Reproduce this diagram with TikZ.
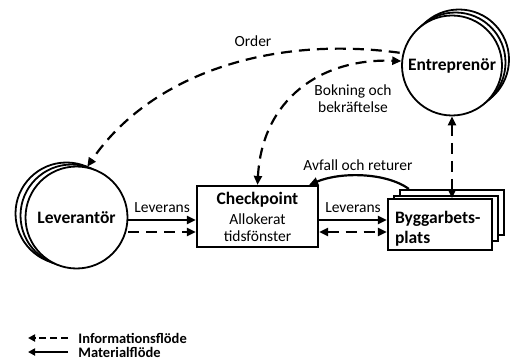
\documentclass[tikz,border=0pt]{standalone}
\usepackage{fontspec}
\setmainfont{Carlito}
\usetikzlibrary{arrows.meta}

\begin{document}
\begin{tikzpicture}[x=1pt, y=-1pt, line width=2.2pt,
    actor/.style={circle, draw, fill=white, inner sep=0pt, line width=1.8pt},
    site/.style={rectangle, draw, fill=white, minimum width=104pt, minimum height=45pt},
    mat/.style={-{Triangle[length=9pt,width=8pt]}},
    info/.style={mat, dash pattern=on 11pt off 7pt},
    infotwo/.style={{Triangle[length=9pt,width=8pt]}-{Triangle[length=9pt,width=8pt]}, dash pattern=on 11pt off 7pt},
    lbl/.style={font=\fontsize{15.5}{17}\selectfont},
    bigl/.style={font=\fontsize{17.5}{20}\selectfont\bfseries},
    legl/.style={anchor=west, font=\fontsize{14.5}{16}\selectfont\bfseries}]
        \useasboundingbox (0,0) rectangle (513,363);
        \node[actor, minimum size=100pt] (entc) at (459,59.5) {};
        \node[actor, minimum size=100pt] (entb) at (455.5,62.5) {};
        \node[actor, minimum size=100pt, bigl] (ent) at (452,65.5) {Entreprenör};
        \node[actor, minimum size=102pt] (levc) at (66.5,213.5) {};
        \node[actor, minimum size=102pt] (levb) at (71.5,215.5) {};
        \node[actor, minimum size=102pt, bigl] (lev) at (76.5,217.5) {Leverantör};
        \node[draw, fill=white, minimum width=121pt, minimum height=61pt, align=center, lbl] (chk) at (257.5,216.5) {{\bfseries\fontsize{17.5}{20}\selectfont Checkpoint}\\[3pt] Allokerat\\ tidsfönster};
        \node[site] (byggc) at (452,212.5) {};
        \node[site] (byggb) at (446,218.5) {};
        \node[site, align=left, inner xsep=7pt, text width=90pt, bigl] (bygg) at (440,224.5) {\rule{0pt}{21pt}Byggarbets-\\plats};
        \coordinate (m1) at ([yshift=-3.5pt]chk.west);
        \coordinate (m2) at ([yshift=-15.5pt]chk.west);
        \coordinate (n1) at ([yshift=-3.5pt]chk.east);
        \coordinate (n2) at ([yshift=-15.5pt]chk.east);
        \draw[mat] (lev.east |- m1) -- node[lbl, above=2.5pt] (levl) {Leverans} (m1);
        \draw[info] (lev.east |- m2) -- (m2);
        \draw[mat] (n1) -- node[lbl, above=2.5pt] (levr) {Leverans} (bygg.west |- n1);
        \draw[infotwo] (n2) -- (bygg.west |- n2);
        \draw[infotwo] (ent.south) -- (ent.south |- bygg.north);
        \draw[info, shorten <=3pt] (ent.166) .. controls (270,35) and (150,75) .. (lev.78);
        \node[lbl] (orderl) at (253,41) {Order};
        \draw[infotwo] (chk.north) .. controls (262,100) and (320,58) .. (ent.175);
        \node[lbl, align=center] (bokl) at (353,98.5) {Bokning och\\bekräftelse};
        \draw[mat] ([xshift=10pt]byggc.north west) .. controls (385,172) and (340,172) .. ([xshift=-10pt]chk.north east);
        \node[lbl] (avfl) at (358,165) {Avfall och returer};
        \node[legl] (leginfo) at (74,338) {Informationsflöde};
        \node[legl] (legmat) at (74,352) {Materialflöde};
        \coordinate (infoend) at (28,338);
        \coordinate (matend) at (28,352);
        \draw[-{Triangle[length=7pt,width=7pt]}, dash pattern=on 7pt off 4pt, shorten <=6pt] (leginfo.west) -- (infoend);
        \draw[-{Triangle[length=7pt,width=7pt]}, shorten <=6pt] (legmat.west) -- (matend);
\end{tikzpicture}
\end{document}
